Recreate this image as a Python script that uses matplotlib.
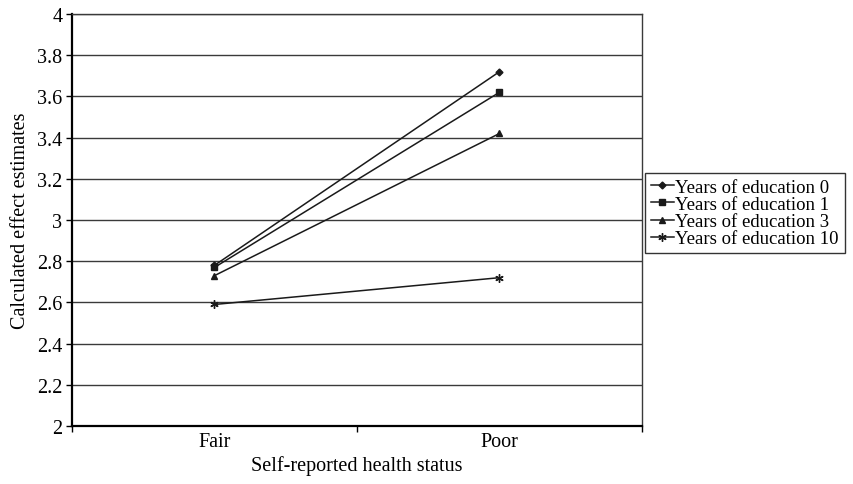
import matplotlib
matplotlib.use("Agg")
import matplotlib.pyplot as plt
from matplotlib.ticker import FixedLocator

categories = ["Fair", "Poor"]
series_names = ["Years of education 0", "Years of education 1",
                "Years of education 3", "Years of education 10"]
edu0 = [2.78, 3.72]
edu1 = [2.77, 3.62]
edu3 = [2.73, 3.42]
edu10 = [2.59, 2.72]
values = [edu0, edu1, edu3, edu10]
yticks = [2, 2.2, 2.4, 2.6, 2.8, 3, 3.2, 3.4, 3.6, 3.8, 4]
markers = ["D", "s", "^", (6, 2, 0)]
msizes = [3.5, 5, 5, 6]

plt.rcParams['font.family'] = ['Liberation Serif', 'DejaVu Serif']

fig = plt.figure(figsize=(8.54, 4.85), dpi=100)
ax = fig.add_axes([72/854, 58/485, 570/854, 412/485])

x = list(range(len(categories)))
for name, v, m, ms in zip(series_names, values, markers, msizes):
    ax.plot(x, v, color="#1a1a1a", lw=1.1, marker=m, ms=ms,
            markerfacecolor="#1a1a1a", markeredgecolor="#1a1a1a",
            markeredgewidth=1.0, label=name)

ax.set_xlim(-0.5, 1.5)
ax.set_ylim(2, 4)
ax.set_yticks(yticks)
ax.set_yticklabels([f"{t:g}" for t in yticks])
ax.set_xticks(x)
ax.set_xticklabels(categories)
ax.xaxis.set_minor_locator(FixedLocator([-0.5, 0.5, 1.5]))
ax.tick_params(axis='x', which='major', length=0, pad=4, labelsize=14.5)
ax.tick_params(axis='x', which='minor', length=4, width=1, direction='out')
ax.tick_params(axis='y', length=4, width=1, direction='out', labelsize=14.5, pad=3)

ax.grid(axis='y', color="#3a3a3a", lw=1.0)
ax.set_axisbelow(True)
for s in ['top', 'right']:
    ax.spines[s].set_color("#3a3a3a")
    ax.spines[s].set_linewidth(1.0)
for s in ['left', 'bottom']:
    ax.spines[s].set_color("black")
    ax.spines[s].set_linewidth(1.6)

ax.set_xlabel("Self-reported health status", fontsize=14.5, labelpad=3)
ax.set_ylabel("Calculated effect estimates", fontsize=14.5, labelpad=5)

leg = ax.legend(loc='center left', bbox_to_anchor=(1.006, 0.517), fontsize=13.5,
                frameon=True, fancybox=False, edgecolor="black",
                handlelength=1.2, handletextpad=0.1, borderpad=0.3,
                labelspacing=0.0, borderaxespad=0)
leg.get_frame().set_linewidth(1.0)

fig.savefig("out.png", dpi=100)
